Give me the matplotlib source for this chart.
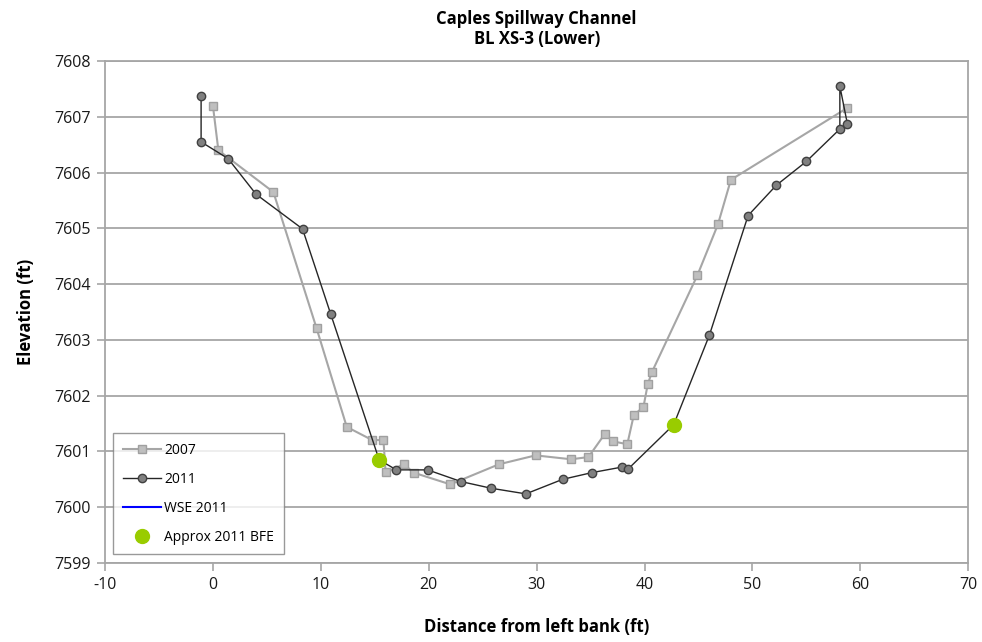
import matplotlib.pyplot as plt

plt.rcParams["font.family"] = ["Open Sans", "DejaVu Sans"]
plt.rcParams["axes.unicode_minus"] = False

# survey 2007
x_2007 = [0.0, 0.5, 5.6, 9.6, 12.4, 14.7, 15.8, 16.0, 17.7, 18.6, 22.0, 26.5,
          29.9, 33.2, 34.8, 36.3, 37.1, 38.4, 39.0, 39.9, 40.3, 40.7, 44.9,
          46.8, 48.0, 58.8]
z_2007 = [7607.19, 7606.40, 7605.65, 7603.21, 7601.44, 7601.21, 7601.20,
          7600.63, 7600.77, 7600.62, 7600.41, 7600.77, 7600.93, 7600.86,
          7600.90, 7601.31, 7601.18, 7601.13, 7601.65, 7601.80, 7602.21,
          7602.43, 7604.16, 7605.07, 7605.87, 7607.16]

# survey 2011
x_2011 = [-1.1, -1.1, 1.4, 4.0, 8.3, 10.9, 15.4, 17.0, 19.9, 23.0, 25.8, 29.0,
          32.4, 35.1, 37.9, 38.5, 42.7, 46.0, 49.6, 52.2, 55.0, 58.1, 58.1,
          58.8]
z_2011 = [7607.37, 7606.55, 7606.25, 7605.61, 7604.99, 7603.47, 7600.85,
          7600.67, 7600.67, 7600.46, 7600.34, 7600.24, 7600.50, 7600.62,
          7600.72, 7600.69, 7601.48, 7603.08, 7605.23, 7605.77, 7606.20,
          7606.78, 7607.55, 7606.87]

# approx bankfull elevation points
x_bfe = [15.4, 42.7]
z_bfe = [7600.85, 7601.48]

x_ticks = list(range(-10, 71, 10))
y_ticks = list(range(7599, 7609))

fig = plt.figure(figsize=(9.82, 6.42), dpi=100)
ax = fig.add_axes([0.107, 0.123, 0.879, 0.782])

ax.plot(x_2007, z_2007, color="#a6a6a6", lw=1.5, marker="s", ms=6,
        mfc="#bfbfbf", mec="#a0a0a0", mew=1, label="2007", zorder=3)
ax.plot(x_2011, z_2011, color="#262626", lw=1.0, marker="o", ms=6,
        mfc="#808080", mec="#404040", mew=1, label="2011", zorder=4)
ax.plot([], [], color="#0000ff", lw=1.5, label="WSE 2011")
ax.plot(x_bfe, z_bfe, ls="none", marker="o", ms=10, color="#99cc00",
        label="Approx 2011 BFE", zorder=5)

ax.set_xlim(-10, 70)
ax.set_ylim(7599, 7608)
ax.set_xticks(x_ticks)
ax.set_yticks(y_ticks)
ax.yaxis.grid(True, color="#a6a6a6", lw=1.3)
ax.set_axisbelow(True)
for s in ax.spines.values():
    s.set_color("#a6a6a6")
    s.set_linewidth(1.3)
ax.tick_params(axis="both", direction="out", length=6, width=1.2,
               color="#a6a6a6", labelsize=11.5, labelcolor="#1a1a1a", pad=4)

ax.set_xlabel("Distance from left bank (ft)", fontsize=12, fontweight="bold",
              labelpad=18)
ax.set_ylabel("Elevation (ft)", fontsize=12, fontweight="bold", labelpad=14)
ax.set_title("Caples Spillway Channel\nBL XS-3 (Lower)", fontsize=12,
             fontweight="bold", pad=12)

leg = ax.legend(loc="lower left", bbox_to_anchor=(0.009, 0.017),
                borderaxespad=0, frameon=True, fancybox=False,
                edgecolor="#808080", fontsize=10, handlelength=2.8,
                labelspacing=1.0, borderpad=0.7, handletextpad=0.2)
leg.get_frame().set_linewidth(1.0)

fig.savefig("out.png", dpi=100)
